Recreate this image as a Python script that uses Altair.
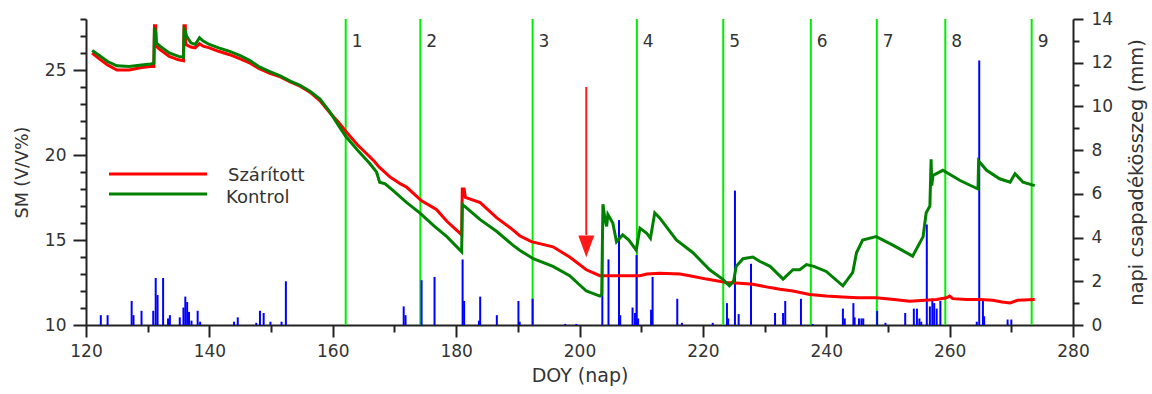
import altair as alt
import pandas as pd

# ---------------- data ----------------
doy_szaritott = [121.0, 122.0, 123.5, 125.0, 127.0, 129.0, 130.5, 131.0, 131.1, 131.3, 131.4, 132.0,
                 133.5, 135.0, 135.8, 135.9, 136.1, 136.2, 137.0, 137.7, 138.4, 139.0, 140.0, 141.5,
                 143.3, 145.0, 146.6, 148.0, 149.8, 151.5, 153.1, 154.7, 156.3, 157.9, 159.5, 161.0,
                 162.1, 164.0, 166.0, 166.8, 167.5, 169.3, 171.0, 172.0, 174.4, 176.8, 178.5, 180.6,
                 180.9, 181.0, 181.3, 181.5, 183.9, 186.6, 189.2, 190.3, 192.2, 195.7, 198.4, 201.1,
                 203.3, 206.0, 209.8, 210.9, 213.0, 216.3, 218.5, 220.6, 223.8, 226.0, 228.1, 230.9,
                 232.5, 234.6, 237.3, 240.0, 242.7, 245.0, 248.1, 251.0, 253.5, 256.0, 257.9, 259.5,
                 260.0, 260.5, 262.7, 265.0, 267.0, 268.5, 269.8, 271.0, 273.8]
sm_szaritott = [26.0, 25.7, 25.3, 25.0, 25.0, 25.15, 25.2, 25.2, 27.6, 27.6, 26.4, 26.2,
                25.8, 25.6, 25.55, 27.6, 27.6, 26.5, 26.35, 26.3, 26.55, 26.4, 26.3, 26.1,
                25.9, 25.65, 25.4, 25.1, 24.8, 24.6, 24.3, 24.05, 23.7, 23.2, 22.5, 21.9,
                21.4, 20.6, 19.9, 19.6, 19.3, 18.7, 18.3, 18.1, 17.3, 16.8, 16.1, 15.4,
                15.3, 18.0, 18.0, 17.5, 17.2, 16.3, 15.6, 15.25, 14.9, 14.6, 14.0, 13.25,
                12.9, 12.9, 12.9, 13.0, 13.05, 13.0, 12.85, 12.7, 12.5, 12.45, 12.4, 12.2,
                12.1, 12.0, 11.8, 11.7, 11.65, 11.6, 11.6, 11.5, 11.4, 11.45, 11.5, 11.6,
                11.7, 11.55, 11.5, 11.5, 11.45, 11.35, 11.3, 11.45, 11.5]

doy_kontrol = [121.0, 122.0, 123.5, 125.0, 127.0, 129.0, 130.5, 131.0, 131.1, 131.3, 131.4, 132.0,
               133.5, 135.0, 135.8, 135.9, 136.1, 136.3, 137.0, 137.7, 138.4, 139.0, 140.0, 141.5,
               143.3, 145.0, 146.6, 148.0, 149.8, 151.5, 153.1, 154.7, 156.3, 157.9, 159.5, 161.0,
               162.1, 164.0, 166.0, 167.1, 167.6, 168.5, 169.8, 172.0, 174.1, 176.5, 178.5, 180.9,
               181.0, 181.3, 183.9, 186.6, 189.2, 190.3, 192.5, 195.7, 198.4, 201.1, 203.3, 203.6,
               203.8, 204.1, 204.4, 204.6, 205.4, 206.0, 207.0, 208.0, 209.2, 209.8, 210.9, 211.5,
               212.2, 213.0, 215.7, 218.4, 221.1, 223.2, 224.3, 225.0, 225.4, 226.5, 228.1, 229.2,
               230.9, 233.0, 234.6, 235.7, 236.8, 238.0, 240.0, 242.7, 244.3, 244.9, 245.9, 248.1,
               250.8, 254.0, 255.7, 256.2, 256.8, 257.0, 257.1, 257.3, 258.9, 261.7, 264.6, 264.7,
               266.0, 268.1, 269.8, 270.6, 271.9, 273.8]
sm_kontrol = [26.15, 25.9, 25.5, 25.25, 25.2, 25.3, 25.35, 25.4, 27.5, 27.2, 26.6, 26.4,
              26.0, 25.8, 25.75, 27.4, 27.3, 27.0, 26.6, 26.5, 26.9, 26.7, 26.5, 26.3,
              26.1, 25.85, 25.55, 25.2, 24.9, 24.65, 24.35, 24.1, 23.75, 23.3, 22.55, 21.7,
              21.1, 20.3, 19.5, 19.0, 18.4, 18.3, 17.9, 17.2, 16.6, 15.8, 15.2, 14.3,
              17.1, 17.0, 16.2, 15.5, 14.7, 14.4, 13.9, 13.45, 12.9, 12.0, 11.7, 11.8,
              17.1, 16.3, 15.8, 16.5, 16.0, 14.9, 15.3, 15.0, 14.4, 15.7, 15.4, 15.1,
              16.6, 16.3, 15.0, 14.25, 13.25, 12.7, 12.3, 12.6, 13.45, 13.9, 14.0, 13.75,
              13.45, 12.7, 13.25, 13.25, 13.55, 13.45, 13.15, 12.3, 13.1, 14.25, 15.0, 15.2,
              14.7, 14.05, 15.2, 16.6, 17.0, 19.75, 18.2, 18.8, 19.1, 18.5, 18.0, 19.65,
              19.1, 18.6, 18.4, 18.9, 18.4, 18.2]

rain_doy = [122.4, 123.5, 127.4, 127.7, 129.0, 130.9, 131.3, 131.6, 132.5, 133.3, 133.6,
            135.2, 135.8, 136.1, 136.4, 136.7, 137.1, 138.1, 138.5, 144.0, 144.6,
            147.6, 148.2, 148.8, 149.9, 151.7, 152.4, 171.5, 171.8, 174.4, 176.5,
            181.05, 181.3, 183.7, 183.9, 186.6, 190.1, 190.3, 192.4, 197.7, 199.5,
            203.7, 204.7, 206.4, 206.6, 208.6, 209.0, 209.25, 209.5, 211.6, 211.85,
            215.85, 216.6, 221.6, 223.9, 224.1, 225.2, 225.8, 227.8, 231.7, 233.0,
            233.35, 235.9, 237.8, 242.7, 243.0, 244.4, 244.6, 245.3, 245.7, 246.0,
            248.25, 249.6, 252.8, 254.2, 254.7, 255.1, 255.4, 256.3, 256.8, 257.2,
            257.5, 257.9, 258.5, 264.4, 264.8, 265.4, 265.6, 269.4, 270.0]
rain_mm = [0.45, 0.45, 1.1, 0.45, 0.65, 0.65, 2.15, 1.37, 2.15, 0.3, 0.45,
           0.35, 0.8, 1.3, 1.05, 0.6, 0.2, 0.65, 0.15, 0.15, 0.35,
           0.1, 0.65, 0.55, 0.15, 0.15, 2.0, 0.85, 0.45, 2.05, 2.2,
           3.0, 1.1, 0.2, 1.3, 0.45, 1.1, 0.15, 1.2, 0.05, 0.05,
           3.5, 3.0, 4.8, 0.45, 0.8, 0.55, 3.2, 0.3, 0.7, 2.2,
           1.2, 0.1, 0.1, 1.0, 0.3, 6.15, 0.5, 2.8, 0.55, 0.55,
           1.1, 1.2, 0.05, 0.75, 0.3, 1.0, 0.35, 0.3, 0.3, 0.3,
           0.65, 0.1, 0.55, 0.75, 0.75, 0.3, 0.15, 4.6, 0.85, 1.2,
           1.0, 0.75, 1.1, 0.15, 12.1, 1.1, 0.4, 0.25, 0.25]

treat_doy = [162.1, 174.2, 192.4, 209.3, 223.3, 237.5, 248.2, 259.3, 273.3]
treat_label = ["1", "2", "3", "4", "5", "6", "7", "8", "9"]

arrow_doy = [201.1]
arrow_top = [24.0]
arrow_stem_end = [15.3]
arrow_head = [14.65]

series_names = ["Szárított", "Kontrol"]
series_colors = ["#ff0000", "#008000"]

# ---------------- tables ----------------
sm_df = pd.concat([
    pd.DataFrame({"doy": doy_szaritott, "sm": sm_szaritott, "kezeles": series_names[0]}),
    pd.DataFrame({"doy": doy_kontrol, "sm": sm_kontrol, "kezeles": series_names[1]}),
], ignore_index=True)
rain_df = pd.DataFrame({"doy": rain_doy, "rain": rain_mm, "zero": [0.0] * len(rain_doy)})
treat_df = pd.DataFrame({"doy": treat_doy, "label": treat_label})
arrow_df = pd.DataFrame({"doy": arrow_doy, "sm": arrow_top, "sm2": arrow_stem_end, "head": arrow_head})
legend_df = pd.DataFrame({"kezeles": series_names, "color": series_colors})

FONT = "DejaVu Sans"
TXT = "#333333"
AX = "#222222"

xscale = alt.Scale(domain=[120, 280], nice=False, zero=False)
yscale = alt.Scale(domain=[10, 28], nice=False, zero=False)
rscale = alt.Scale(domain=[0, 14], nice=False, zero=True)

x_axis = alt.Axis(
    values=list(range(120, 281, 10)),
    labelExpr="datum.value % 20 === 0 ? datum.label : ''",
    tickSize={"condition": {"test": "datum.value % 20 === 0", "value": 12}, "value": 7},
    title="DOY (nap)", titleFont=FONT, titleFontSize=19, titleFontWeight="normal", titleColor=TXT,
    titlePadding=7, labelFont=FONT, labelFontSize=17, labelColor=TXT, labelPadding=6,
    domainColor=AX, domainWidth=2, tickColor=AX, tickWidth=2, grid=False, labelFlush=False,
)
y_axis = alt.Axis(
    orient="left",
    values=list(range(10, 29)),
    labelExpr="datum.value % 5 === 0 ? datum.label : ''",
    tickSize={"condition": {"test": "datum.value % 5 === 0", "value": 13}, "value": 6},
    title="SM (V/V%)", titleFont=FONT, titleFontSize=17.5, titleFontWeight="normal", titleColor=TXT,
    titlePadding=13, labelFont=FONT, labelFontSize=17, labelColor=TXT, labelPadding=7,
    domainColor=AX, domainWidth=2, tickColor=AX, tickWidth=2, grid=False, labelFlush=False,
)
r_axis = alt.Axis(
    orient="right",
    values=list(range(0, 15)),
    labelExpr="datum.value % 2 === 0 ? datum.label : ''",
    tickSize={"condition": {"test": "datum.value % 2 === 0", "value": 10}, "value": 6},
    title="napi csapadékösszeg (mm)", titleFont=FONT, titleFontSize=19.5, titleFontWeight="normal",
    titleColor=TXT, titleAngle=270, titleBaseline="top", titlePadding=15,
    labelFont=FONT, labelFontSize=17, labelColor=TXT, labelPadding=8,
    domainColor=AX, domainWidth=2, tickColor=AX, tickWidth=2, grid=False, labelFlush=False,
)

X = alt.X("doy:Q", scale=xscale, axis=x_axis)

# vertical treatment lines + numbers (no y channel)
vlines = alt.Chart(treat_df).mark_rule(color="#00ee00", strokeWidth=2).encode(x=X)
vlabels = alt.Chart(treat_df).mark_text(
    align="left", baseline="middle", dx=6, font=FONT, fontSize=17, color=TXT
).encode(x=X, y=alt.value(23), text="label:N")

# precipitation bars (right axis)
bars = alt.Chart(rain_df).mark_rule(color="#0000ff", strokeWidth=2).encode(
    x=X,
    y=alt.Y("rain:Q", scale=rscale, axis=r_axis),
    y2=alt.Y2("zero:Q"),
)

# soil moisture lines + arrow (left axis)
Y = alt.Y("sm:Q", scale=yscale, axis=y_axis, title="SM (V/V%)")
lines = alt.Chart(sm_df).mark_line(strokeWidth=3, interpolate="linear").encode(
    x=X,
    y=Y,
    color=alt.Color("kezeles:N", scale=alt.Scale(domain=series_names, range=series_colors), legend=None),
    order=alt.Order("doy:Q"),
)
arrow_stem = alt.Chart(arrow_df).mark_rule(color="#ff1a1a", strokeWidth=2).encode(
    x=X, y=Y, y2=alt.Y2("sm2:Q")
)
arrow_head_mark = alt.Chart(arrow_df).mark_point(
    shape="M-1,-1.3L1,-1.3L0,1.4Z", size=256, filled=True, color="#ff1a1a", opacity=1
).encode(x=X, y=alt.Y("head:Q", scale=yscale, axis=y_axis, title="SM (V/V%)"))

left_layer = alt.layer(lines, arrow_stem, arrow_head_mark)

# legend (drawn manually, one row per series)
def leg_rule(i, ypx):
    return alt.Chart(legend_df).transform_filter(
        alt.datum.kezeles == series_names[i]
    ).mark_rule(color=series_colors[i], strokeWidth=3).encode(
        x=alt.value(23), x2=alt.value(121), y=alt.value(ypx))

def leg_text(i, xpx, ypx):
    return alt.Chart(legend_df).transform_filter(
        alt.datum.kezeles == series_names[i]
    ).mark_text(align="left", baseline="middle", font=FONT, fontSize=18, color=TXT).encode(
        x=alt.value(xpx), y=alt.value(ypx), text="kezeles:N")

legend_layers = [leg_rule(0, 155), leg_rule(1, 175), leg_text(0, 142, 157), leg_text(1, 140, 179)]

chart = alt.layer(
    vlines, vlabels, bars, left_layer, *legend_layers
).resolve_scale(y="independent").properties(
    width=987, height=306,
    autosize=alt.AutoSizeParams(type="none"),
    padding={"left": 86, "top": 19, "right": 79, "bottom": 69},
    background="white",
).configure_view(stroke=None)

chart.save("out.html", embed_options={"renderer": "svg", "actions": False})
